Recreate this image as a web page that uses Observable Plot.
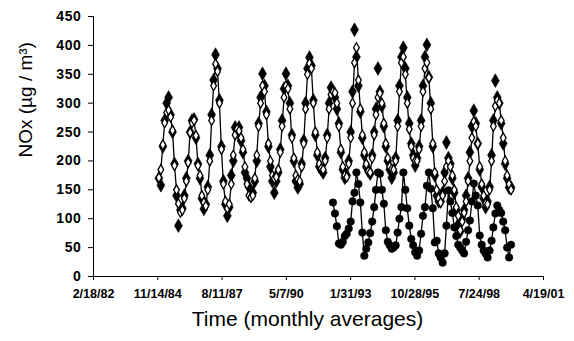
<!DOCTYPE html>
<html><head><meta charset="utf-8">
<script src="https://cdn.jsdelivr.net/npm/d3@7"></script>
<script src="https://cdn.jsdelivr.net/npm/@observablehq/plot@0.6"></script>
<style>
body{margin:0;background:#fff}
svg{font-family:"Liberation Sans",Arial,sans-serif}
g[aria-label="y-axis tick label"] text{letter-spacing:0.6px}
</style>
</head><body><div id="chart"></div>
<script>
// x tick labels (dates, 1000 days apart)
const xTickLabels = ["2/18/82","11/14/84","8/11/87","5/7/90","1/31/93","10/28/95","7/24/98","4/19/01"];
const yTicks = [0,50,100,150,200,250,300,350,400,450];
const yTitle = "NOx (\u00b5g / m\u00b3)";
const xTitle = "Time (monthly averages)";

// monthly series starting Dec 1984
const diamondStart = "1984-12-01";
// black diamonds (measured)
const measured = [
 170,158,225,270,300,310,280,250,195,140,88,115,
 118,140,170,200,250,270,272,240,195,170,135,117,
 125,155,210,280,340,384,360,305,225,165,125,105,
 120,175,200,258,250,258,235,215,180,170,155,140,
 145,165,200,265,310,351,330,285,225,190,165,145,
 165,180,220,270,325,351,330,300,245,200,165,154,
 160,195,235,300,360,379,365,305,245,210,190,185,
 180,205,245,300,327,320,310,290,265,215,185,171,
 175,200,250,320,427,380,330,285,240,210,190,183,
 178,210,250,290,360,320,295,260,225,200,185,171,
 180,205,270,330,380,396,360,310,265,230,210,192,
 205,225,270,330,380,401,345,300,225,175,140,130,
 130,145,180,232,205,195,170,145,115,90,78,100,
 115,140,170,215,260,287,265,230,185,155,135,120,
 130,155,210,270,339,310,300,265,230,195,170,154,
 154];
// open diamonds with line (model)
const modeled = [
 171,185,228,266,284,288,276,253,192,150,126,111,
 115,135,165,197,249,266,270,244,192,175,140,128,
 122,150,200,270,330,368,355,300,220,160,130,118,
 125,160,210,245,255,252,240,220,190,160,140,137,
 140,170,210,260,300,330,320,280,230,200,175,170,
 172,185,215,260,310,330,325,290,240,205,175,168,
 165,190,230,290,350,369,360,300,250,215,195,187,
 185,200,240,290,315,320,318,300,260,220,190,175,
 172,195,240,300,370,396,340,290,245,215,195,182,
 180,205,245,280,310,317,300,265,230,205,190,186,
 185,200,260,320,370,380,350,300,255,225,205,200,
 200,220,260,320,360,370,344,290,230,180,150,135,
 128,140,165,190,200,190,175,150,120,105,80,95,
 110,130,165,200,240,268,260,230,190,160,140,126,
 125,150,200,260,295,305,300,270,240,200,175,160,
 150];
// black circles with line, starting May 1992
const circleStart = "1992-05-01";
const circles = [
 128,109,87,57,55,60,70,74,83,95,130,145,180,160,128,76,36,48,59,
 75,95,120,150,180,178,150,126,80,60,54,48,50,54,76,100,120,180,
 150,118,88,65,54,42,36,45,74,105,120,157,180,152,118,59,62,40,
 33,24,40,88,149,130,110,85,70,55,50,45,40,60,80,97,130,161,140,
 123,71,55,45,40,33,45,62,85,109,123,115,110,95,80,50,33,55];

const parseTick = d3.utcParse("%m/%d/%y");
const xTicks = xTickLabels.map(parseTick);
const toRows = (start, vals) => vals.map((v, i) => ({date: d3.utcMonth.offset(new Date(start), i), value: v}));
const measuredRows = toRows(diamondStart, measured);
const modeledRows = toRows(diamondStart, modeled);
const circleRows = toRows(circleStart, circles);

const plot = Plot.plot({
  width: 574, height: 341,
  marginLeft: 93, marginRight: 31, marginTop: 16, marginBottom: 65,
  style: {fontFamily: '"Liberation Sans", Arial, sans-serif', background: "#fff", color: "#000"},
  x: {type: "utc", domain: [xTicks[0], xTicks[xTicks.length - 1]], label: null},
  y: {domain: [0, 450], label: null},
  marks: [
    Plot.axisX({ticks: xTicks, tickFormat: (d, i) => xTickLabels[i], tickSize: 4, tickPadding: 9,
      fontSize: 12.5, fontWeight: "bold", label: null}),
    Plot.axisY({ticks: yTicks, tickSize: 5, tickPadding: 7, fontSize: 14, fontWeight: "bold", label: null}),
    Plot.ruleY([0], {stroke: "#000", strokeWidth: 1}),
    Plot.ruleX([xTicks[0]], {stroke: "#000", strokeWidth: 1}),
    Plot.dot(measuredRows, {x: "date", y: "value", symbol: "diamond", r: 4.2, fill: "#000", stroke: "#000", strokeWidth: 0.5}),
    Plot.line(modeledRows, {x: "date", y: "value", stroke: "#000", strokeWidth: 1.3}),
    Plot.dot(modeledRows, {x: "date", y: "value", symbol: "diamond", r: 3, fill: "#fff", stroke: "#000", strokeWidth: 1.3}),
    Plot.line(circleRows, {x: "date", y: "value", stroke: "#000", strokeWidth: 1.3}),
    Plot.dot(circleRows, {x: "date", y: "value", symbol: "circle", r: 3.8, fill: "#000", stroke: "#000", strokeWidth: 0.5}),
    Plot.text([yTitle], {frameAnchor: "left", dx: -68, dy: 11, rotate: -90, fontSize: 19, fill: "#000"}),
    Plot.text([xTitle], {frameAnchor: "bottom", dx: -11, dy: 49, fontSize: 21, fill: "#000"})
  ]
});
document.getElementById("chart").appendChild(plot);
</script>
</body></html>
